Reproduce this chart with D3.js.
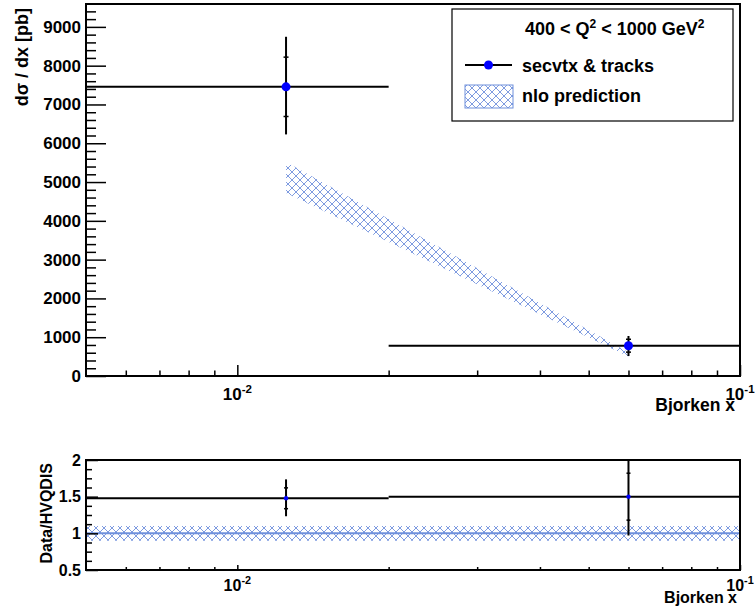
<!DOCTYPE html>
<html>
<head>
<meta charset="utf-8">
<script src="https://cdn.jsdelivr.net/npm/d3@7"></script>
<style>
  html, body { margin: 0; padding: 0; background: #fff; }
  svg text { font-family: "Liberation Sans", Arial, Helvetica, sans-serif; font-weight: bold; fill: #000; }
</style>
</head>
<body>
<svg id="chart" width="756" height="612"></svg>
<script>
// ---------------- data ----------------
const binLow   = [0.005, 0.02];
const binHigh  = [0.02, 0.1];
const xCenter  = [0.0125, 0.06];
const xsec     = [7455, 781];
const xsecStat = [765, 166];
const xsecTotUp = [1290, 250];
const xsecTotDn = [1227, 266];

const nloX    = [0.0125, 0.06];
const nloLow  = [4720, 500];
const nloHigh = [5520, 610];

const ratio      = [1.478, 1.50];
const ratioStat  = [0.142, 0.32];
const ratioTotUp = [0.258, 0.55];
const ratioTotDn = [0.245, 0.53];
const ratioBandX    = [0.005, 0.1];
const ratioBandLow  = [0.9, 0.9];
const ratioBandHigh = [1.1, 1.1];
const ratioLine = [1.0, 1.0];

const yTopMajor = [0,1000,2000,3000,4000,5000,6000,7000,8000,9000];
const yRatioMajor = [0.5, 1, 1.5, 2];
const yRatioLabels = ["0.5", "1", "1.5", "2"];
const xMajor = [0.01, 0.1];
const xMajorExp = ["-2", "-1"];
const xMinor = [0.006,0.007,0.008,0.009,0.02,0.03,0.04,0.05,0.06,0.07,0.08,0.09];

const xTitle = "Bjorken x";
const yTitleTop = "dσ / dx [pb]";
const yTitleBottom = "Data/HVQDIS";
const legendTitle = ["400 < Q", "2", " < 1000 GeV", "2"];
const legendData = "secvtx & tracks";
const legendNlo = "nlo prediction";

// ---------------- layout ----------------
const svg = d3.select("#chart");
const L = 86, R = 740;
const T1 = 4, B1 = 376;
const T2 = 460, B2 = 570;
const hatchColor = "#6f90dc";

const defs = svg.append("defs");
const pat = defs.append("pattern").attr("id","hatch")
  .attr("patternUnits","userSpaceOnUse").attr("width",8).attr("height",8);
pat.append("path").attr("d","M-1,-1 L9,9 M-1,9 L9,-1")
  .attr("stroke",hatchColor).attr("stroke-width",0.9).attr("fill","none");
defs.append("clipPath").attr("id","clipTop").append("rect")
  .attr("x",L).attr("y",T1).attr("width",R-L).attr("height",B1-T1);
defs.append("clipPath").attr("id","clipBot").append("rect")
  .attr("x",L).attr("y",T2).attr("width",R-L).attr("height",B2-T2);

const x = d3.scaleLog().domain([0.005, 0.1]).range([L, R]);
const yTop = d3.scaleLinear().domain([0, 9590]).range([B1, T1]);
const yBot = d3.scaleLinear().domain([0.5, 2.0]).range([B2, T2]);

// ---------------- top panel ----------------
const gTop = svg.append("g");
const bandTop = gTop.append("g").attr("clip-path","url(#clipTop)");
const nloData = nloX.map((v,i)=>({x:v, lo:nloLow[i], hi:nloHigh[i]}));
bandTop.append("path").datum(nloData)
  .attr("d", d3.area().x(d=>x(d.x)).y0(d=>yTop(d.lo)).y1(d=>yTop(d.hi)))
  .attr("fill","url(#hatch)").attr("stroke","none");

function yAxisTicks(g, scale, values, size, withLabels, labels, fs) {
  const ax = d3.axisLeft(scale).tickValues(values).tickSize(-size).tickPadding(5)
    .tickFormat(withLabels ? ((d,i)=>labels ? labels[i] : d3.format("d")(d)) : "");
  const a = g.append("g").attr("transform",`translate(${L},0)`).call(ax);
  a.select(".domain").remove();
  a.selectAll("line").attr("stroke","#000").attr("stroke-width",1.5);
  a.selectAll("text").style("font-size", fs + "px").style("font-family",'"Liberation Sans", Arial, sans-serif').style("font-weight","bold");
}
function xAxisTicks(g, yPos, values, size) {
  const ax = d3.axisBottom(x).tickValues(values).tickSize(-size).tickFormat("");
  const a = g.append("g").attr("transform",`translate(0,${yPos})`).call(ax);
  a.select(".domain").remove();
  a.selectAll("line").attr("stroke","#000").attr("stroke-width",1.5);
}

const yTopMinor = d3.range(0, 9590, 200).filter(v => v % 1000 !== 0);
yAxisTicks(gTop, yTop, yTopMinor, 10, false);
yAxisTicks(gTop, yTop, yTopMajor, 20, true, null, 17);
xAxisTicks(gTop, B1, xMinor, 5.5);
xAxisTicks(gTop, B1, xMajor, 11);

const dataG = gTop.append("g").attr("clip-path","url(#clipTop)");
xCenter.forEach((xc,i)=>{
  dataG.append("line").attr("x1",x(binLow[i])).attr("x2",x(binHigh[i]))
    .attr("y1",yTop(xsec[i])).attr("y2",yTop(xsec[i])).attr("stroke","#000").attr("stroke-width",2);
  dataG.append("line").attr("x1",x(xc)).attr("x2",x(xc))
    .attr("y1",yTop(xsec[i]-xsecTotDn[i])).attr("y2",yTop(xsec[i]+xsecTotUp[i]))
    .attr("stroke","#000").attr("stroke-width",2);
  [xsec[i]-xsecStat[i], xsec[i]+xsecStat[i]].forEach(v=>{
    dataG.append("line").attr("x1",x(xc)-2.5).attr("x2",x(xc)+2.5)
      .attr("y1",yTop(v)).attr("y2",yTop(v)).attr("stroke","#000").attr("stroke-width",1.5);
  });
  dataG.append("circle").attr("cx",x(xc)).attr("cy",yTop(xsec[i])).attr("r",4.5).attr("fill","#0000ff");
});

gTop.append("rect").attr("x",L).attr("y",T1).attr("width",R-L).attr("height",B1-T1)
  .attr("fill","none").attr("stroke","#000").attr("stroke-width",2);

function xLabels(g, baseY, fs) {
  xMajor.forEach((v,i)=>{
    const t = g.append("text").attr("x",x(v)).attr("y",baseY).attr("text-anchor","middle")
      .style("font-size",fs+"px");
    t.append("tspan").text("10");
    t.append("tspan").attr("dy",-7).style("font-size",(fs*0.68)+"px").text(xMajorExp[i]);
  });
}
xLabels(gTop, 400, 17);
gTop.append("text").attr("x",735).attr("y",411).attr("text-anchor","end").style("font-size","17.5px").text(xTitle);
gTop.append("text").attr("transform","translate(28,8) rotate(-90)").attr("text-anchor","end")
  .style("font-size","18px").text(yTitleTop);

// legend
const lg = svg.append("g");
lg.append("rect").attr("x",452).attr("y",9).attr("width",281).attr("height",112)
  .attr("fill","#fff").attr("stroke","#000").attr("stroke-width",1.2);
const lt = lg.append("text").attr("x",525).attr("y",35).style("font-size","18px");
lt.append("tspan").text(legendTitle[0]);
lt.append("tspan").attr("dy",-7).style("font-size","12px").text(legendTitle[1]);
lt.append("tspan").attr("dy",7).text(legendTitle[2]);
lt.append("tspan").attr("dy",-7).style("font-size","12px").text(legendTitle[3]);
lg.append("line").attr("x1",465).attr("x2",512).attr("y1",65).attr("y2",65).attr("stroke","#000").attr("stroke-width",2);
lg.append("circle").attr("cx",488.5).attr("cy",65).attr("r",4.5).attr("fill","#0000ff");
lg.append("text").attr("x",522).attr("y",72).style("font-size","18px").text(legendData);
lg.append("rect").attr("x",465).attr("y",85).attr("width",48).attr("height",23)
  .attr("fill","url(#hatch)").attr("stroke",hatchColor).attr("stroke-width",1);
lg.append("text").attr("x",522).attr("y",102).style("font-size","18px").text(legendNlo);

// ---------------- bottom panel ----------------
const gBot = svg.append("g");
const bandBot = gBot.append("g").attr("clip-path","url(#clipBot)");
const rbData = ratioBandX.map((v,i)=>({x:v, lo:ratioBandLow[i], hi:ratioBandHigh[i], c:ratioLine[i]}));
bandBot.append("path").datum(rbData)
  .attr("d", d3.area().x(d=>x(d.x)).y0(d=>yBot(d.lo)).y1(d=>yBot(d.hi)))
  .attr("fill","url(#hatch)");
bandBot.append("path").datum(rbData)
  .attr("d", d3.line().x(d=>x(d.x)).y(d=>yBot(d.c)))
  .attr("fill","none").attr("stroke",hatchColor).attr("stroke-width",2);

const yRatioMinor = d3.range(0.5, 2.001, 0.125).filter(v => Math.abs(v*2 - Math.round(v*2)) > 1e-6);
yAxisTicks(gBot, yBot, yRatioMinor, 6, false);
yAxisTicks(gBot, yBot, yRatioMajor, 12, true, yRatioLabels, 16);
xAxisTicks(gBot, B2, xMinor, 3);
xAxisTicks(gBot, B2, xMajor, 5);

const dataB = gBot.append("g").attr("clip-path","url(#clipBot)");
xCenter.forEach((xc,i)=>{
  dataB.append("line").attr("x1",x(binLow[i])).attr("x2",x(binHigh[i]))
    .attr("y1",yBot(ratio[i])).attr("y2",yBot(ratio[i])).attr("stroke","#000").attr("stroke-width",2);
  dataB.append("line").attr("x1",x(xc)).attr("x2",x(xc))
    .attr("y1",yBot(ratio[i]-ratioTotDn[i])).attr("y2",yBot(ratio[i]+ratioTotUp[i]))
    .attr("stroke","#000").attr("stroke-width",2);
  [ratio[i]-ratioStat[i], ratio[i]+ratioStat[i]].forEach(v=>{
    dataB.append("line").attr("x1",x(xc)-2).attr("x2",x(xc)+2)
      .attr("y1",yBot(v)).attr("y2",yBot(v)).attr("stroke","#000").attr("stroke-width",1.5);
  });
  dataB.append("circle").attr("cx",x(xc)).attr("cy",yBot(ratio[i])).attr("r",2.2).attr("fill","#0000ff");
});

gBot.append("rect").attr("x",L).attr("y",T2).attr("width",R-L).attr("height",B2-T2)
  .attr("fill","none").attr("stroke","#000").attr("stroke-width",2);

xLabels(gBot, 591, 16);
gBot.append("text").attr("x",737).attr("y",603).attr("text-anchor","end").style("font-size","16px").text(xTitle);
gBot.append("text").attr("transform","translate(52,463) rotate(-90)").attr("text-anchor","end")
  .style("font-size","16px").text(yTitleBottom);
</script>
</body>
</html>
